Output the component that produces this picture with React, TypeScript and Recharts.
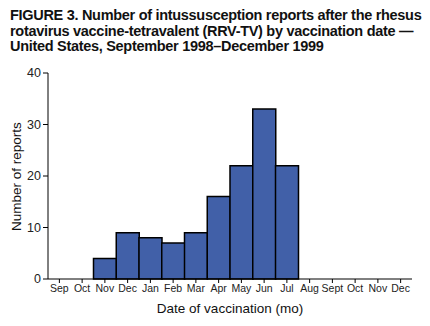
import React from "react";
import { BarChart, Bar, XAxis, YAxis } from "recharts";

const monthIds = ["Sep98", "Oct98", "Nov98", "Dec98", "Jan99", "Feb99", "Mar99", "Apr99", "May99", "Jun99", "Jul99", "Aug99", "Sep99", "Oct99", "Nov99", "Dec99"];
const monthLabels = ["Sep", "Oct", "Nov", "Dec", "Jan", "Feb", "Mar", "Apr", "May", "Jun", "Jul", "Aug", "Sept", "Oct", "Nov", "Dec"];
const reports = [0, 0, 4, 9, 8, 7, 9, 16, 22, 33, 22, 0, 0, 0, 0, 0];
const yTicks = [0, 10, 20, 30, 40];

const data = monthIds.map((id, i) => ({ id, label: monthLabels[i], value: reports[i] }));
const labelOf: Record<string, string> = {};
monthIds.forEach((id, i) => (labelOf[id] = monthLabels[i]));

const FONT = '"Liberation Sans", Arial, Helvetica, sans-serif';

export default function App() {
  return (
    <div style={{ position: "absolute", left: 0, top: 0, width: 430, height: 326, background: "#fff", fontFamily: FONT }}>
      <div
        style={{
          position: "absolute",
          left: 10,
          top: 8,
          fontSize: 14.5,
          fontWeight: "bold",
          lineHeight: "15.5px",
          letterSpacing: "-0.3px",
          color: "#111",
          whiteSpace: "nowrap",
        }}
      >
        <div>FIGURE 3. Number of intussusception reports after the rhesus</div>
        <div>rotavirus vaccine-tetravalent (RRV-TV) by vaccination date —</div>
        <div>United States, September 1998–December 1999</div>
      </div>
      <div style={{ position: "absolute", left: 0, top: 0 }}>
        <BarChart
          width={430}
          height={326}
          data={data}
          margin={{ top: 73, right: 18, bottom: 17, left: 0 }}
          barCategoryGap={0}
        >
          <XAxis
            dataKey="id"
            tickFormatter={(v: string) => labelOf[v] ?? v}
            interval={0}
            height={30}
            stroke="#000"
            tickLine={{ stroke: "#000" }}
            tickSize={4}
            tick={{ fontSize: 10.5, fill: "#222", fontFamily: FONT }}
            label={{ value: "Date of vaccination (mo)", position: "insideBottom", offset: -4, fontSize: 13.5, fill: "#111", fontFamily: FONT }}
          />
          <XAxis xAxisId="top" orientation="top" dataKey="id" height={0} tick={false} tickLine={false} stroke="#000" />
          <YAxis
            domain={[0, 40]}
            ticks={yTicks}
            width={48}
            stroke="#000"
            tickSize={5}
            tick={{ fontSize: 12.5, fill: "#222", fontFamily: FONT }}
            label={{ value: "Number of reports", angle: -90, position: "insideLeft", offset: 16, dy: 55, fontSize: 13.5, fill: "#111", fontFamily: FONT }}
          />
          <YAxis yAxisId="right" orientation="right" width={0} tick={false} tickLine={false} stroke="#000" domain={[0, 40]} />
          <Bar dataKey="value" fill="#4160A8" stroke="#000" strokeWidth={1.5} isAnimationActive={false} />
        </BarChart>
      </div>
    </div>
  );
}
